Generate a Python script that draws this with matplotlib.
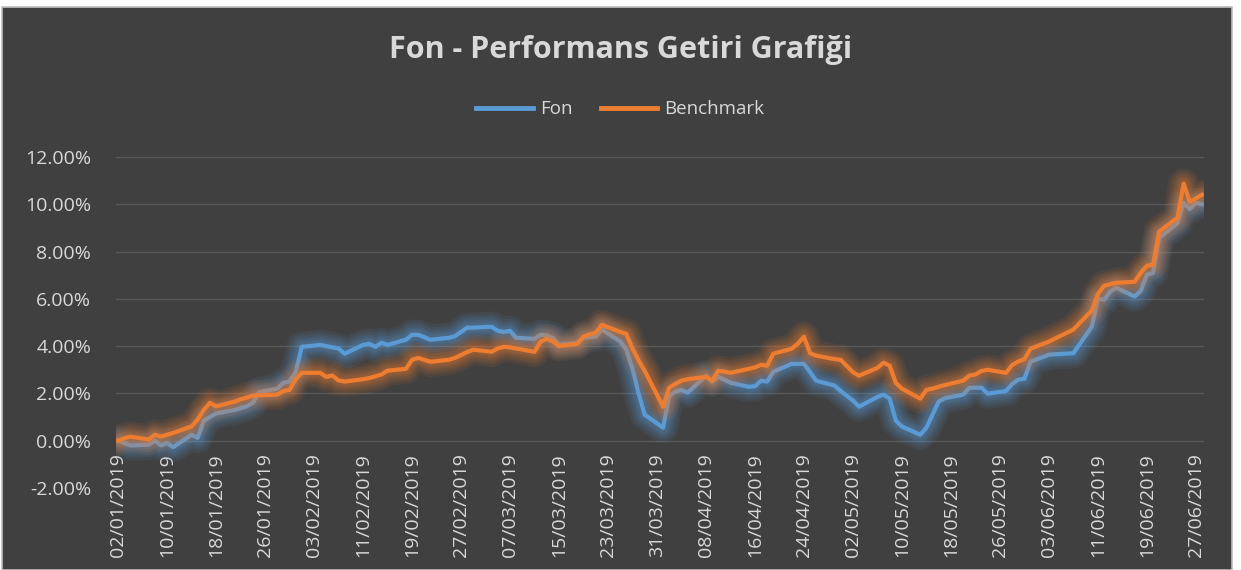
import matplotlib
matplotlib.use("Agg")
import matplotlib.pyplot as plt
import matplotlib.dates as mdates
from matplotlib.patches import Rectangle
from matplotlib.ticker import FuncFormatter
import pandas as pd

# Data (percent returns)
dates = [
    "2019-01-02", "2019-01-03", "2019-01-04", "2019-01-07", "2019-01-08", "2019-01-09",
    "2019-01-10", "2019-01-11", "2019-01-14", "2019-01-15", "2019-01-16", "2019-01-17",
    "2019-01-18", "2019-01-21", "2019-01-22", "2019-01-23", "2019-01-24", "2019-01-25",
    "2019-01-28", "2019-01-29", "2019-01-30", "2019-01-31", "2019-02-01", "2019-02-04",
    "2019-02-05", "2019-02-06", "2019-02-07", "2019-02-08", "2019-02-11", "2019-02-12",
    "2019-02-13", "2019-02-14", "2019-02-15", "2019-02-18", "2019-02-19", "2019-02-20",
    "2019-02-21", "2019-02-22", "2019-02-25", "2019-02-26", "2019-02-27", "2019-02-28",
    "2019-03-01", "2019-03-04", "2019-03-05", "2019-03-06", "2019-03-07", "2019-03-08",
    "2019-03-11", "2019-03-12", "2019-03-13", "2019-03-14", "2019-03-15", "2019-03-18",
    "2019-03-19", "2019-03-20", "2019-03-21", "2019-03-22", "2019-03-25", "2019-03-26",
    "2019-03-27", "2019-03-28", "2019-03-29", "2019-04-01", "2019-04-02", "2019-04-03",
    "2019-04-04", "2019-04-05", "2019-04-08", "2019-04-09", "2019-04-10", "2019-04-11",
    "2019-04-12", "2019-04-15", "2019-04-16", "2019-04-17", "2019-04-18", "2019-04-19",
    "2019-04-22", "2019-04-23", "2019-04-24", "2019-04-25", "2019-04-26", "2019-04-29",
    "2019-04-30", "2019-05-02", "2019-05-03", "2019-05-06", "2019-05-07", "2019-05-08",
    "2019-05-09", "2019-05-10", "2019-05-13", "2019-05-14", "2019-05-15", "2019-05-16",
    "2019-05-17", "2019-05-20", "2019-05-21", "2019-05-22", "2019-05-23", "2019-05-24",
    "2019-05-27", "2019-05-28", "2019-05-29", "2019-05-30", "2019-05-31", "2019-06-03",
    "2019-06-07", "2019-06-10", "2019-06-11", "2019-06-12", "2019-06-13", "2019-06-14",
    "2019-06-17", "2019-06-18", "2019-06-19", "2019-06-20", "2019-06-21", "2019-06-24",
    "2019-06-25", "2019-06-26", "2019-06-27", "2019-06-28",
]

fon = [
    0.00, -0.10, -0.20, -0.17, 0.00, -0.20,
    -0.10, -0.27, 0.25, 0.12, 0.85, 1.00,
    1.15, 1.30, 1.38, 1.45, 1.60, 2.05,
    2.20, 2.45, 2.50, 2.90, 3.97, 4.05,
    4.00, 3.95, 3.90, 3.68, 4.05, 4.10,
    3.97, 4.14, 4.05, 4.27, 4.48, 4.48,
    4.38, 4.27, 4.35, 4.42, 4.60, 4.78,
    4.78, 4.82, 4.65, 4.60, 4.65, 4.35,
    4.31, 4.48, 4.45, 4.35, 4.06, 4.14,
    4.35, 4.38, 4.40, 4.70, 4.20, 3.85,
    3.05, 2.00, 1.10, 0.55, 1.90, 2.07,
    2.15, 2.03, 2.75, 2.50, 2.70, 2.58,
    2.45, 2.28, 2.30, 2.54, 2.50, 2.92,
    3.25, 3.25, 3.25, 2.90, 2.54, 2.33,
    2.10, 1.70, 1.44, 1.85, 1.95, 1.78,
    0.85, 0.60, 0.25, 0.55, 1.10, 1.65,
    1.80, 1.95, 2.24, 2.24, 2.24, 1.99,
    2.10, 2.40, 2.58, 2.62, 3.34, 3.64,
    3.70, 4.82, 6.00, 5.96, 6.30, 6.47,
    6.10, 6.34, 7.02, 7.10, 8.58, 9.20,
    10.06, 9.80, 10.06, 10.00,
]

benchmark = [
    0.00, 0.10, 0.17, 0.05, 0.25, 0.17,
    0.25, 0.33, 0.60, 0.90, 1.30, 1.60,
    1.45, 1.65, 1.75, 1.82, 1.90, 1.92,
    1.95, 2.10, 2.15, 2.60, 2.87, 2.87,
    2.70, 2.75, 2.55, 2.50, 2.60, 2.65,
    2.72, 2.80, 2.96, 3.04, 3.42, 3.50,
    3.42, 3.34, 3.42, 3.50, 3.62, 3.75,
    3.85, 3.76, 3.90, 3.97, 3.95, 3.90,
    3.76, 4.19, 4.31, 4.20, 4.00, 4.10,
    4.40, 4.50, 4.57, 4.90, 4.60, 4.52,
    3.90, 3.40, 2.95, 1.44, 2.24, 2.40,
    2.54, 2.60, 2.70, 2.54, 2.96, 2.92,
    2.87, 3.04, 3.10, 3.21, 3.17, 3.68,
    3.89, 4.10, 4.40, 3.70, 3.60, 3.45,
    3.42, 2.90, 2.75, 3.08, 3.30, 3.17,
    2.45, 2.20, 1.78, 2.15, 2.20, 2.28,
    2.35, 2.54, 2.75, 2.80, 2.95, 3.00,
    2.87, 3.20, 3.35, 3.45, 3.89, 4.19,
    4.70, 5.50, 6.20, 6.55, 6.62, 6.68,
    6.72, 7.10, 7.40, 7.44, 8.84, 9.43,
    10.87, 10.10, 10.25, 10.40,
]

series_names = ["Fon", "Benchmark"]
colors = ["#5B9BD5", "#ED7D31"]
title = "Fon - Performans Getiri Grafiği"

x = pd.to_datetime(dates)
tick_dates = pd.date_range("2019-01-02", "2019-06-27", freq="8D")

bg = "#404040"
text_color = "#D9D9D9"
plt.rcParams["font.family"] = ["Open Sans", "DejaVu Sans"]

fig = plt.figure(figsize=(12.41, 5.70), dpi=100, facecolor="white")
fig.patches.append(Rectangle((0.0015, 0.0), 0.9915, 0.988, transform=fig.transFigure,
                             facecolor=bg, edgecolor="#BFBFBF", linewidth=1.2,
                             zorder=-10))

ax = fig.add_axes([0.0935, 0.1439, 0.8767, 0.5807])
ax.set_zorder(5)
ax.set_facecolor(bg)

for name, vals, c in zip(series_names, [fon, benchmark], colors):
    # soft glow behind each line
    for w in [22, 18, 15, 12, 10, 8, 6]:
        ax.plot(x, vals, color=c, lw=w, alpha=0.09, solid_capstyle="round",
                solid_joinstyle="round")
    ax.plot(x, vals, color=c, lw=3.0, label=name, solid_joinstyle="round")

ax.set_ylim(-2, 12)
ax.set_yticks(range(-2, 13, 2))
ax.yaxis.set_major_formatter(FuncFormatter(lambda v, p: f"{v:.2f}%"))
ax.set_xlim(x[0] - pd.Timedelta(hours=8), x[-1] + pd.Timedelta(hours=8))
ax.set_xticks(tick_dates)
ax.xaxis.set_major_formatter(mdates.DateFormatter("%d/%m/%Y"))

for yv in range(0, 13, 2):
    ax.axhline(yv, color="#595959", lw=1.0, zorder=0)

for s in ax.spines.values():
    s.set_visible(False)
ax.spines["bottom"].set_position(("data", 0))
ax.tick_params(axis="both", length=0, colors=text_color)
ax.tick_params(axis="x", rotation=90, pad=9, labelsize=14)
ax.tick_params(axis="y", pad=18, labelsize=14)

fig.text(0.5, 0.912, title, ha="center", va="center", color=text_color,
         fontsize=22, fontweight="bold")
leg = fig.legend(loc="center", bbox_to_anchor=(0.5, 0.808), ncol=2, frameon=False,
                 fontsize=13.5, handlelength=3.0, columnspacing=1.5, handletextpad=0.4)
for t in leg.get_texts():
    t.set_color(text_color)
for h in leg.legend_handles:
    h.set_linewidth(3.5)

fig.savefig("out.png", dpi=100, facecolor="white")
